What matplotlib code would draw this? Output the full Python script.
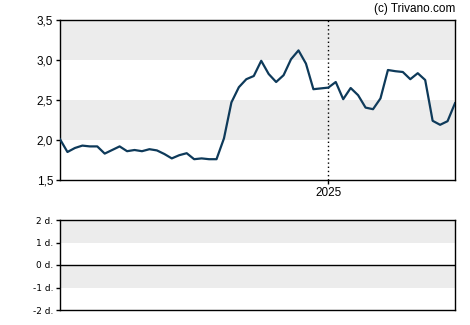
import numpy as np
import matplotlib.pyplot as plt

# weekly closing prices
prices = [2.01, 1.85, 1.90, 1.93, 1.92, 1.92, 1.83, 1.875, 1.92, 1.86,
          1.875, 1.86, 1.885, 1.87, 1.825, 1.77, 1.81, 1.835, 1.76, 1.77,
          1.76, 1.76, 2.02, 2.47, 2.66, 2.76, 2.80, 2.99, 2.825, 2.725,
          2.81, 3.01, 3.12, 2.955, 2.635, 2.645, 2.655, 2.725, 2.51, 2.65,
          2.56, 2.405, 2.385, 2.52, 2.875, 2.86, 2.85, 2.76, 2.835, 2.75,
          2.24, 2.19, 2.235, 2.46]
year_idx = 36
year_label = '2025'
y_ticks = [1.5, 2.0, 2.5, 3.0, 3.5]
y_labels = ['1,5', '2,0', '2,5', '3,0', '3,5']
low_ticks = [-2, -1, 0, 1, 2]
low_labels = ['-2 d.', '-1 d.', '0 d.', '1 d.', '2 d.']

x = np.arange(len(prices))
band = '#ececec'

fig = plt.figure(figsize=(4.7, 3.25), dpi=100)

ax = fig.add_axes([60/470, 1-180/325, 395/470, 160/325])
ax.set_xlim(0, len(prices)-1)
ax.set_ylim(1.5, 3.5)
ax.axhspan(2.0, 2.5, color=band, lw=0, zorder=0)
ax.axhspan(3.0, 3.5, color=band, lw=0, zorder=0)
ax.axvline(year_idx, color='black', lw=1, linestyle=(0, (1, 2)), zorder=1)
ax.plot(x, prices, color='#0e3a5a', lw=1.6, zorder=3, solid_joinstyle='round')
ax.set_yticks(y_ticks)
ax.set_yticklabels(y_labels, fontsize=8.5, family='Liberation Sans')
ax.set_xticks([year_idx])
ax.set_xticklabels([year_label], fontsize=8.5, family='Liberation Sans')
ax.tick_params(length=3, width=1, pad=2)
for s in ax.spines.values():
    s.set_linewidth(1)
fig.text(455/470, 1-9/325, '(c) Trivano.com', ha='right', va='center',
         fontsize=8.5, family='Liberation Sans')

ax2 = fig.add_axes([60/470, 1-310/325, 395/470, 90/325])
ax2.set_xlim(0, len(prices)-1)
ax2.set_ylim(-2, 2)
ax2.axhspan(1, 2, color=band, lw=0, zorder=0)
ax2.axhspan(-1, 0, color=band, lw=0, zorder=0)
ax2.axhline(0, color='black', lw=1)
ax2.set_yticks(low_ticks)
ax2.set_yticklabels(low_labels, fontsize=6.5)
ax2.set_xticks([])
ax2.tick_params(length=3, width=1, pad=2)
for s in ax2.spines.values():
    s.set_linewidth(1)

fig.savefig('out.png', dpi=100)
